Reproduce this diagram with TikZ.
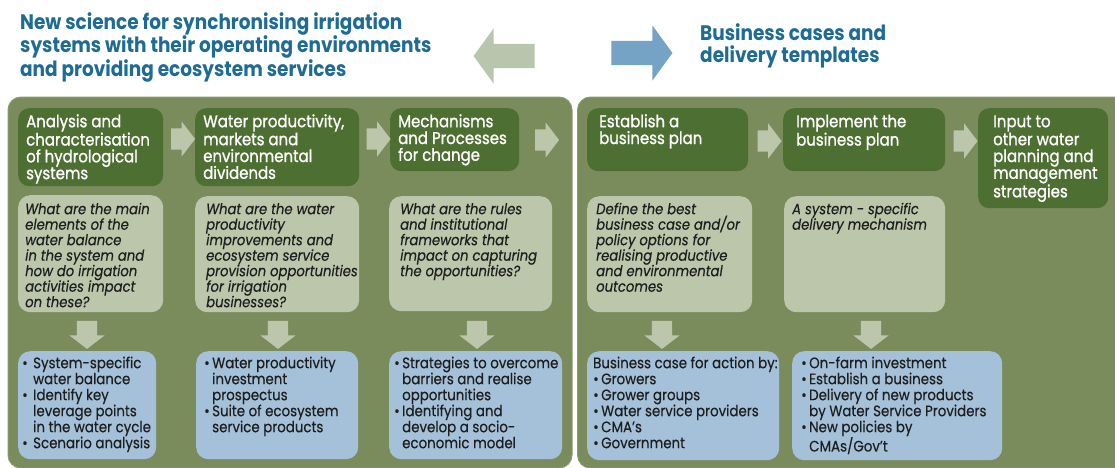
\documentclass[tikz,border=0pt]{standalone}
\usepackage{fontspec}
\setmainfont{Poppins}[FakeStretch=0.88]
\newfontfamily\hdrfont{Poppins}[FakeStretch=0.88, FakeBold=1.2]
\newfontfamily\bodyfont{Poppins}[FakeStretch=0.88, FakeBold=0.4]
\usetikzlibrary{shapes.arrows,calc}
\definecolor{panelg}{HTML}{7A8C5B}
\definecolor{paneledge}{HTML}{8A9B70}
\definecolor{hdrg}{HTML}{4D6F31}
\definecolor{qgray}{HTML}{BBC6AB}
\definecolor{lblue}{HTML}{A4C1D9}
\definecolor{ttlblue}{HTML}{1E6B93}
\definecolor{toparrg}{HTML}{B9C5AC}
\definecolor{toparrb}{HTML}{74A3C5}
\definecolor{txtdark}{HTML}{1E1E1E}
\newcommand{\bu}[1][9pt]{\makebox[#1][l]{•}}
\newcommand{\ind}[1][9pt]{\hspace*{#1}}
\newcommand{\fs}[1]{\rule{0pt}{#1}}
\tikzset{
  panelbox/.style={fill=panelg, draw=paneledge, line width=1pt, rounded corners=13pt},
  hdrbox/.style={fill=hdrg, rounded corners=11pt, inner sep=0pt, anchor=north west},
  qbox/.style={fill=qgray, rounded corners=12pt, inner sep=0pt, anchor=north west},
  bbox/.style={fill=lblue, rounded corners=12pt, inner sep=0pt, anchor=north west},
  ttl/.style={text=ttlblue, font=\fontsize{21}{22.5}\selectfont\bfseries, align=left, inner sep=0pt, anchor=north west},
  htext/.style={text=white, font=\hdrfont\fontsize{17}{16.8}\selectfont, align=left, inner sep=0pt, anchor=north west},
  qtext/.style={text=txtdark, font=\bodyfont\fontsize{15}{15.5}\selectfont\itshape, align=left, inner sep=0pt, anchor=north west},
  btext/.style={text=txtdark, font=\bodyfont\fontsize{15.2}{16}\selectfont, align=left, inner sep=0pt, anchor=north west},
  harr/.style={single arrow, fill=qgray, inner xsep=0pt, inner ysep=10.5pt, minimum width=35pt, minimum height=24pt,
    single arrow head extend=7pt, single arrow tip angle=105, single arrow head indent=0pt},
  darr/.style={single arrow, fill=qgray, inner xsep=0pt, inner ysep=10pt, minimum width=35pt, minimum height=28pt,
    single arrow head extend=7.5pt, single arrow tip angle=105, single arrow head indent=0pt, rotate=-90},
  bigarr/.style={single arrow, inner xsep=0pt, inner ysep=12pt, minimum width=55pt, minimum height=61pt,
    single arrow head extend=15.5pt, single arrow tip angle=108, single arrow head indent=0pt},
}
\begin{document}
\begin{tikzpicture}[x=1pt,y=-1pt]
\useasboundingbox (0,0) rectangle (1115,467);
\clip (0,0) rectangle (1115,467);
% titles
\node[ttl] (tl) at (20,12) {\fs{17pt}New science for synchronising irrigation\\systems with their operating environments\\and providing ecosystem services};
\node[ttl] (tr) at (700,23) {\fs{17pt}Business cases and\\delivery templates};
\node[bigarr, fill=toparrg, shape border rotate=180] (al) at (508.5,56) {};
\node[bigarr, fill=toparrb] (ar) at (637.5,53) {};
% panels
\node[panelbox, minimum width=564pt, minimum height=371pt, inner sep=0pt, anchor=north west] (pl) at (7.5,96.5) {};
\node[panelbox, minimum width=560pt, minimum height=371pt, inner sep=0pt, anchor=north west] (pr) at (577,96.5) {};
% headers
\node[hdrbox, minimum width=145pt, minimum height=78pt] (h1) at (18,108) {};
\node[hdrbox, minimum width=164pt, minimum height=78pt] (h2) at (195,108) {};
\node[hdrbox, minimum width=129pt, minimum height=63pt] (h3) at (390,108) {};
\node[hdrbox, minimum width=161pt, minimum height=63pt] (h4) at (587,108) {};
\node[hdrbox, minimum width=162pt, minimum height=63pt] (h5) at (783,108) {};
\node[hdrbox, minimum width=130pt, minimum height=100pt] (h6) at (978,108) {};
\node[htext] (t1) at (26,113) {\fs{14pt}Analysis and\\characterisation\\of hydrological\\systems};
\node[htext] (t2) at (203,113) {\fs{14pt}Water productivity,\\markets and\\environmental\\dividends};
\node[htext] (t3) at (398,113) {\fs{14pt}Mechanisms\\and Processes\\for change};
\node[htext] (t4) at (599,113) {\fs{14pt}Establish a\\business plan};
\node[htext] (t5) at (796,113) {\fs{14pt}Implement the\\business plan};
\node[htext] (t6) at (993,113) {\fs{14pt}Input to\\other water\\planning and\\management\\strategies};
% header arrows
\node[harr] (a12) at (179,139) {};
\node[harr] (a23) at (374.5,139) {};
\node[harr] (a3x) at (543,140) {};
\node[harr] (a45) at (765.5,141) {};
\node[harr] (a56) at (961.5,141) {};
% question boxes
\node[qbox, minimum width=145pt, minimum height=117pt] (q1) at (18,195) {};
\node[qbox, minimum width=164pt, minimum height=116pt] (q2) at (195,196) {};
\node[qbox, minimum width=163pt, minimum height=115pt] (q3) at (389,196) {};
\node[qbox, minimum width=165pt, minimum height=116pt] (q4) at (587,196) {};
\node[qbox, minimum width=161pt, minimum height=116pt] (q5) at (784,196) {};
\node[qtext] (u1) at (25,201) {\fs{13pt}What are the main\\elements of the\\water balance\\in the system and\\how do irrigation\\activities impact\\on these?};
\node[qtext] (u2) at (206,201) {\fs{13pt}What are the water\\productivity\\improvements and\\ecosystem service\\provision opportunities\\for irrigation\\businesses?};
\node[qtext] (u3) at (400,201) {\fs{13pt}What are the rules\\and institutional\\frameworks that\\impact on capturing\\the opportunities?};
\node[qtext] (u4) at (596,201) {\fs{13pt}Define the best\\business case and/or\\policy options for\\realising productive\\and environmental\\outcomes};
\node[qtext] (u5) at (792,201) {\fs{13pt}A system - specific\\delivery mechanism};
% blue boxes
\node[bbox, minimum width=138pt, minimum height=108pt] (b1) at (18,351) {};
\node[bbox, minimum width=162pt, minimum height=108pt] (b2) at (196,351) {};
\node[bbox, minimum width=173pt, minimum height=108pt] (b3) at (389,351) {};
\node[bbox, minimum width=192pt, minimum height=109pt] (b4) at (587,351) {};
\node[bbox, minimum width=210pt, minimum height=109pt] (b5) at (792,351) {};
% down arrows
\node[darr] (d1) at (87,331) {};
\node[darr] (d2) at (278,331) {};
\node[darr] (d3) at (477,331) {};
\node[darr] (d4) at (662,331) {};
\node[darr] (d5) at (871,331) {};
% blue box text
\node[btext] (v1) at (22,355) {\fs{13pt}\bu[11pt]System-specific\\\ind[11pt]water balance\\\bu[11pt]Identify key\\\ind[11pt]leverage points\\\ind[11pt]in the water cycle\\\bu[11pt]Scenario analysis};
\node[btext] (v2) at (204,355) {\fs{13pt}\bu[8pt]Water productivity\\\ind[8pt]investment\\\ind[8pt]prospectus\\\bu[8pt]Suite of ecosystem\\\ind[8pt]service products};
\node[btext] (v3) at (394,355) {\fs{13pt}\bu[8pt]Strategies to overcome\\\ind[8pt]barriers and realise\\\ind[8pt]opportunities\\\bu[8pt]Identifying and\\\ind[8pt]develop a socio-\\\ind[8pt]economic model};
\node[btext] (v4) at (593,355) {\fs{13pt}Business case for action by:\\\bu[8pt]Growers\\\bu[8pt]Grower groups\\\bu[8pt]Water service providers\\\bu[8pt]CMA’s\\\bu[8pt]Government};
\node[btext] (v5) at (801,355) {\fs{13pt}\bu[8pt]On-farm investment\\\bu[8pt]Establish a business\\\bu[8pt]Delivery of new products\\\ind[8pt]by Water Service Providers\\\bu[8pt]New policies by\\\ind[8pt]CMAs/Gov’t};
\end{tikzpicture}
\end{document}
